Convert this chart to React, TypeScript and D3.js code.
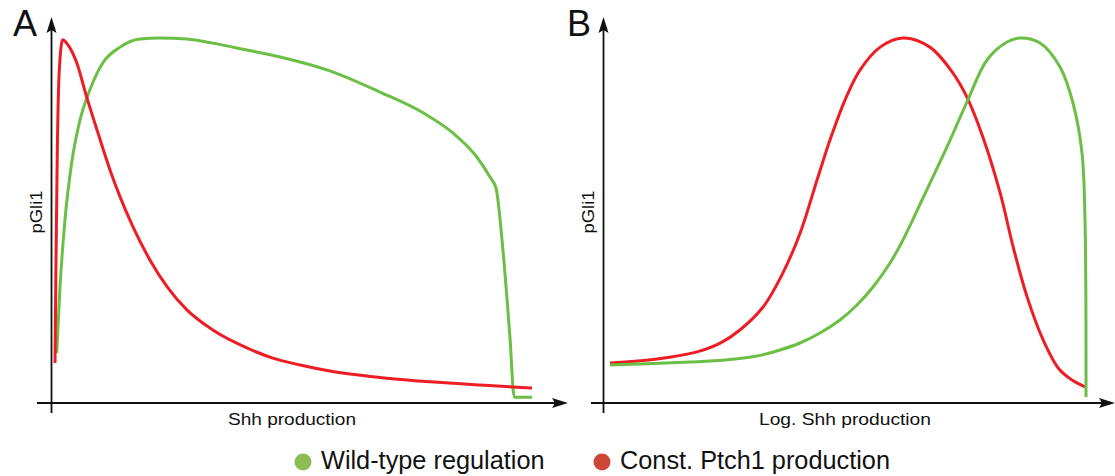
import React from "react";
import * as d3 from "d3";

// Panel A: Shh production (linear)
const xA_wt = [0.98, 1.67, 2.7, 4.1, 5.83, 7.9, 10.6, 14.2, 18.3, 22.5, 28.1, 33.5, 40.6, 47.5, 57.9, 68.3, 77.3, 83.5, 88.5, 91.25, 92.5, 94.0, 95.4, 96.3, 100];
const yA_wt = [13.7, 31.8, 50.1, 65.8, 77.5, 85.8, 93.2, 97.5, 99.7, 100, 99.7, 98.6, 96.7, 94.8, 91.0, 85.2, 79.5, 74.0, 67.4, 61.9, 58.9, 41.1, 18.1, 1.6, 1.6];
const xA_pt = [0.625, 0.83, 1.1, 1.52, 2.23, 3.33, 5.15, 7.23, 9.58, 12.1, 14.2, 16.9, 20.4, 24.0, 28.1, 33.5, 40.6, 46.0, 51.7, 57.9, 68.3, 78.75, 89.2, 100];
const yA_pt = [10.96, 38.4, 68.5, 91.2, 99.5, 98.1, 93.2, 83.8, 74.0, 63.8, 56.4, 48.2, 39.2, 31.8, 25.5, 20.0, 15.1, 12.3, 10.4, 8.77, 7.0, 5.8, 4.9, 4.1];

// Panel B: Log. Shh production
const xB_wt = [1.24, 17.84, 25.1, 31.74, 36.51, 40.66, 44.81, 48.96, 52.49, 55.81, 59.34, 62.03, 65.98, 71.16, 75.31, 79.46, 83.61, 86.31, 90.46, 94.61, 97.3, 99.17, 99.79, 100];
const yB_wt = [10.41, 11.23, 11.78, 12.88, 14.52, 16.44, 19.18, 22.74, 26.85, 31.78, 38.36, 44.66, 55.62, 70.14, 82.47, 93.97, 98.9, 100, 98.63, 92.05, 82.19, 68.49, 50.14, 1.64];
const xB_pt = [1.24, 11.0, 19.3, 24.1, 28.2, 33.0, 37.1, 40.7, 44.2, 46.9, 50.0, 53.1, 57.3, 62.0, 67.6, 72.4, 75.3, 78.6, 82.2, 84.9, 87.8, 91.1, 94.4, 97.1, 99.8];
const yB_pt = [10.96, 12.05, 14.0, 16.4, 20.0, 26.3, 35.6, 46.6, 61.1, 72.1, 83.0, 91.2, 97.5, 100, 97.5, 90.4, 83.8, 72.9, 57.5, 42.7, 29.0, 17.3, 9.3, 6.3, 4.4];

const panelLetters = ["A", "B"];
const xAxisLabels = ["Shh production", "Log. Shh production"];
const yAxisLabel = "pGli1";
const legendLabels = ["Wild-type regulation", "Const. Ptch1 production"];

const RED = "#ee1d24";
const GREEN = "#6bbf45";
const LEG_GREEN = "#8cbd54";
const LEG_RED = "#cd4637";
const FONT = "Liberation Sans, Arial, sans-serif";

type Panel = {
  letter: string;
  xLabel: string;
  xLabelLen: number;
  xRange: [number, number];
  axisX: number;
  xStart: number;
  xEnd: number;
  letterX: number;
  curve: d3.CurveFactory;
  series: { xs: number[]; ys: number[]; color: string }[];
};

const yScale = d3.scaleLinear().domain([0, 100]).range([403, 38]);
const axisY = 403;

function zip(xs: number[], ys: number[]): [number, number][] {
  return xs.map((x, i) => [x, ys[i]]);
}

function PanelView({ p }: { p: Panel }) {
  const x = d3.scaleLinear().domain([0, 100]).range(p.xRange);
  const line = d3
    .line<[number, number]>()
    .x((d) => x(d[0]))
    .y((d) => yScale(d[1]))
    .curve(p.curve);
  const tipY = 17;
  const ax = p.axisX;
  const yArrow = `M${ax},${tipY} L${ax - 5},${tipY + 16} L${ax},${tipY + 13} L${ax + 5},${tipY + 16} Z`;
  const xe = p.xEnd;
  const xArrow = `M${xe},${axisY} L${xe - 16},${axisY - 5} L${xe - 13},${axisY} L${xe - 16},${axisY + 5} Z`;
  const xMid = (p.xRange[0] + p.xRange[1]) / 2;
  return (
    <g>
      {p.series.map((s, i) => (
        <path key={i} d={line(zip(s.xs, s.ys)) || ""} fill="none" stroke={s.color} strokeWidth={3} strokeLinejoin="round" strokeLinecap="butt" />
      ))}
      <line x1={ax} y1={tipY + 10} x2={ax} y2={413} stroke="#111" strokeWidth={1.8} />
      <path d={yArrow} fill="#111" />
      <line x1={p.xStart} y1={axisY} x2={xe - 10} y2={axisY} stroke="#111" strokeWidth={1.8} />
      <path d={xArrow} fill="#111" />
      <text x={p.letterX} y={36} fontFamily={FONT} fontSize={36} fill="#111">{p.letter}</text>
      <text
        x={xMid}
        y={425}
        fontFamily={FONT}
        fontSize={17}
        textAnchor="middle"
        textLength={p.xLabelLen}
        lengthAdjust="spacingAndGlyphs"
        fill="#111"
      >
        {p.xLabel}
      </text>
      <text
        transform={`translate(${ax - 10},212) rotate(-90)`}
        fontFamily={FONT}
        fontSize={17}
        textAnchor="middle"
        textLength={43}
        lengthAdjust="spacingAndGlyphs"
        fill="#111"
      >
        {yAxisLabel}
      </text>
    </g>
  );
}

export default function App() {
  const panels: Panel[] = [
    {
      letter: panelLetters[0],
      xLabel: xAxisLabels[0],
      xLabelLen: 128,
      xRange: [52, 532],
      axisX: 51.5,
      xStart: 37,
      xEnd: 568,
      letterX: 13,
      curve: d3.curveMonotoneX,
      series: [
        { xs: xA_wt, ys: yA_wt, color: GREEN },
        { xs: xA_pt, ys: yA_pt, color: RED },
      ],
    },
    {
      letter: panelLetters[1],
      xLabel: xAxisLabels[1],
      xLabelLen: 172,
      xRange: [604, 1086],
      axisX: 603.5,
      xStart: 591,
      xEnd: 1115,
      letterX: 567,
      curve: d3.curveCatmullRom.alpha(0.5),
      series: [
        { xs: xB_pt, ys: yB_pt, color: RED },
        { xs: xB_wt, ys: yB_wt, color: GREEN },
      ],
    },
  ];
  return (
    <svg
      width={1115}
      height={476}
      style={{ position: "absolute", left: 0, top: 0, background: "#fff" }}
    >
      <rect width={1115} height={476} fill="#fff" />
      {panels.map((p, i) => (
        <PanelView key={i} p={p} />
      ))}
      <circle cx={303} cy={462} r={8.5} fill={LEG_GREEN} />
      <text x={321} y={469} fontFamily={FONT} fontSize={25.3} fill="#111">{legendLabels[0]}</text>
      <circle cx={602} cy={462} r={8.5} fill={LEG_RED} />
      <text x={620} y={469} fontFamily={FONT} fontSize={25.3} fill="#111">{legendLabels[1]}</text>
    </svg>
  );
}
